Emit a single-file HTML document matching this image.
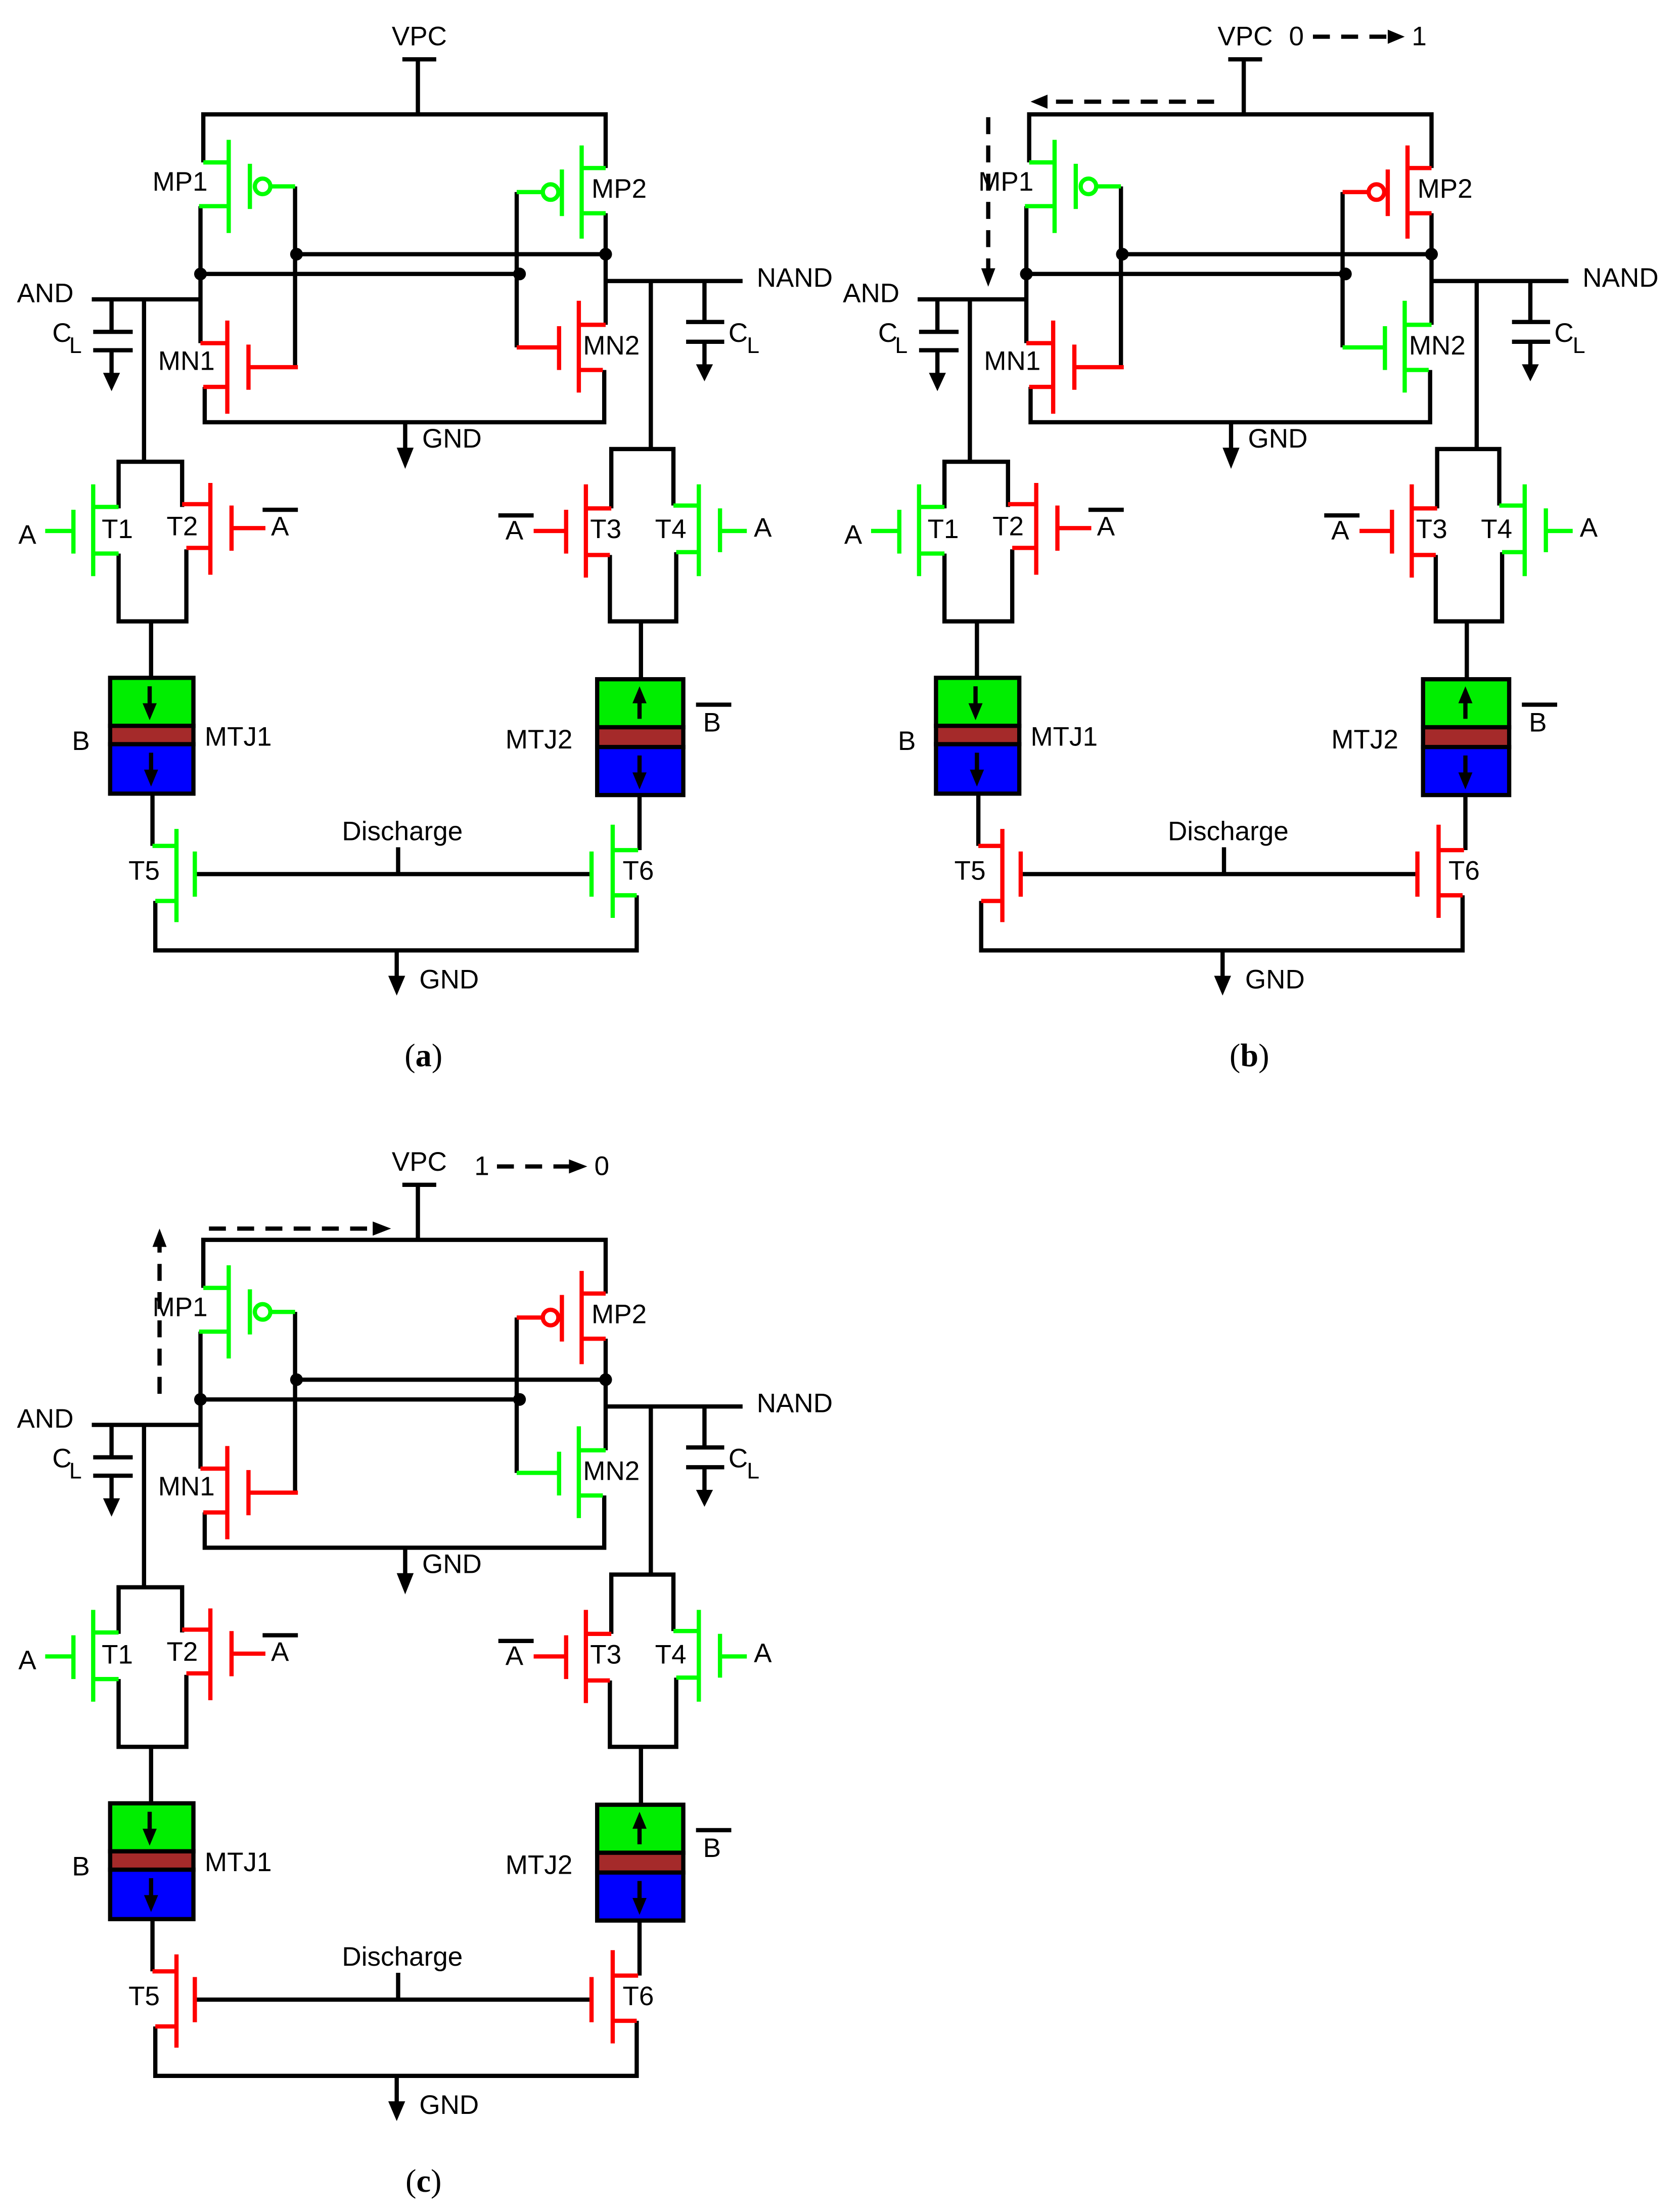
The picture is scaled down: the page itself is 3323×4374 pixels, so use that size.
<!DOCTYPE html>
<html><head><meta charset="utf-8"><style>
html,body{margin:0;padding:0;background:#fff}
svg{display:block}
text{font-family:"Liberation Sans",sans-serif;font-size:19px;fill:#000}
.cap{font-family:"Liberation Serif",serif;font-size:23px}
.k{stroke:#000;stroke-width:3;fill:none}
.g{stroke:#00ff00;stroke-width:3;fill:none}
.r{stroke:#ff0000;stroke-width:3;fill:none}
.mp2{stroke:var(--mp2);stroke-width:3;fill:none}
.mn2{stroke:var(--mn2);stroke-width:3;fill:none}
.t56{stroke:var(--t56);stroke-width:3;fill:none}
.d{stroke:#000;stroke-width:3;fill:none;stroke-dasharray:12 8}
</style></head><body>
<svg width="3323" height="4374" viewBox="0 0 1190 1566.4" xmlns="http://www.w3.org/2000/svg">
<defs>
<g id="P">
<path class="k" d="M285 42H309M296 42V81M144 115V81H429V119M142 146V243M209 132V260M429 151V230M366 136V246M142 194H368M210 180H429"/>
<circle cx="142" cy="194" r="4.5"/><circle cx="210" cy="180" r="4.5"/><circle cx="368" cy="194" r="4.5"/><circle cx="429" cy="180" r="4.5"/>
<path class="k" d="M145 274V299H428V262M287 299V322"/>
<polygon points="281,317 293,317 287,332"/>
<path class="k" d="M65 212H142M102 212V326M79 212V235M66 235H94M66 248H94M79 248V267"/>
<polygon points="73,264 85,264 79,277"/>
<path class="k" d="M429 199H526M461 199V318M499 199V228M486 228H513M486 242H513M499 242V261"/>
<polygon points="493,258 505,258 499,270"/>
<path class="k" d="M84 360V327H129V359M84 392V440H132V389M107 440V480"/>
<path class="k" d="M433 360V318H477V358M432 393V440H479V391M454 440V481"/>
<path class="k" d="M108 562V599M110 638V673H451V634M453 563V602M138 619H419M282 600V619M281 673V694"/>
<polygon points="275,691 287,691 281,705"/>
<rect x="78" y="480" width="59" height="34" class="k" style="fill:#00ee00"/>
<rect x="78" y="514" width="59" height="13" class="k" style="fill:#a52a2a"/>
<rect x="78" y="527" width="59" height="35" class="k" style="fill:#0000ff"/>
<path class="k" d="M106 486V500M107 533V547"/>
<polygon points="101,498 111,498 106,510"/><polygon points="102,545 112,545 107,557"/>
<rect x="423" y="481" width="61" height="34" class="k" style="fill:#00ee00"/>
<rect x="423" y="515" width="61" height="14" class="k" style="fill:#a52a2a"/>
<rect x="423" y="529" width="61" height="34" class="k" style="fill:#0000ff"/>
<path class="k" d="M453 496V509M453 535V549"/>
<polygon points="448,498 458,498 453,486"/><polygon points="448,547 458,547 453,559"/>
<path class="g" d="M144 115H162M162 99V165M141 146H162M177 116V148M192 132H209"/>
<circle class="g" cx="186" cy="132" r="5.5" style="fill:#fff"/>
<path class="mp2" d="M412 119H429M412 103V169M412 151H429M398 120V153M366 136H384"/>
<circle class="mp2" cx="390" cy="136" r="5.5" style="fill:#fff"/>
<path class="r" d="M142 243H161M161 227V293M144 274H161M176 244V276M176 260H211"/>
<path class="mn2" d="M410 230H429M410 213V278M410 262H427M396 231V262M366 246H396"/>
<path class="g" d="M66 359H84M66 343V408M66 392H84M52 361V392M32 376H52"/>
<path class="r" d="M129 357H149M149 342V407M132 388H149M164 358V390M164 374H188"/>
<path class="r" d="M415 360H433M415 343V409M415 393H432M401 361V392M378 376H401"/>
<path class="g" d="M477 358H495M495 343V408M479 391H495M510 360V391M510 376H529"/>
<path class="t56" d="M108 599H125M125 587V653M110 638H125M138 603V635"/>
<path class="t56" d="M434 602H452M434 584V650M434 634H451M419 603V635"/>
<path class="k" d="M186 361H211M353 365H378M493 499H518"/>
<text x="297" y="32" text-anchor="middle">VPC</text>
<text x="108" y="135">MP1</text>
<text x="419" y="140">MP2</text>
<text x="12" y="214">AND</text>
<text x="536" y="203">NAND</text>
<text x="112" y="262">MN1</text>
<text x="413" y="251">MN2</text>
<text x="299" y="317">GND</text>
<text x="37" y="242">C</text><text x="49" y="250" style="font-size:16px">L</text>
<text x="516" y="242">C</text><text x="529" y="250" style="font-size:16px">L</text>
<text x="13" y="385">A</text>
<text x="72" y="381">T1</text>
<text x="118" y="379">T2</text>
<text x="192" y="379">A</text>
<text x="358" y="382">A</text>
<text x="418" y="381">T3</text>
<text x="464" y="381">T4</text>
<text x="534" y="380">A</text>
<text x="51" y="531">B</text>
<text x="145" y="528">MTJ1</text>
<text x="358" y="530">MTJ2</text>
<text x="498" y="518">B</text>
<text x="285" y="595" text-anchor="middle">Discharge</text>
<text x="91" y="623">T5</text>
<text x="441" y="623">T6</text>
<text x="297" y="700">GND</text>
</g>
</defs>

<use href="#P" style="--mp2:#00ff00;--mn2:#ff0000;--t56:#00ff00"/>
<text class="cap" x="300" y="755" text-anchor="middle">(<tspan font-weight="bold">a</tspan>)</text>

<g transform="translate(585,0)">
<use href="#P" style="--mp2:#ff0000;--mn2:#00ff00;--t56:#ff0000"/>
<text x="328" y="32">0</text>
<path class="d" d="M345 26H400"/><polygon points="398,21 398,31 410,26"/>
<text x="415" y="32">1</text>
<path class="d" d="M275 72H155"/><polygon points="157,67 157,77 145,72"/>
<path class="d" d="M115 83V192"/><polygon points="110,190 120,190 115,203"/>
</g>
<text class="cap" x="885" y="755" text-anchor="middle">(<tspan font-weight="bold">b</tspan>)</text>

<g transform="translate(0,797)">
<use href="#P" style="--mp2:#ff0000;--mn2:#00ff00;--t56:#ff0000"/>
<text x="336" y="35">1</text>
<path class="d" d="M352 29H405"/><polygon points="403,24 403,34 416,29"/>
<text x="421" y="35">0</text>
<path class="d" d="M148 73H265"/><polygon points="264,68 264,78 277,73"/>
<path class="d" d="M113 190V84"/><polygon points="108,86 118,86 113,73"/>
</g>
<text class="cap" x="300" y="1552" text-anchor="middle">(<tspan font-weight="bold">c</tspan>)</text>
</svg>
</body></html>
